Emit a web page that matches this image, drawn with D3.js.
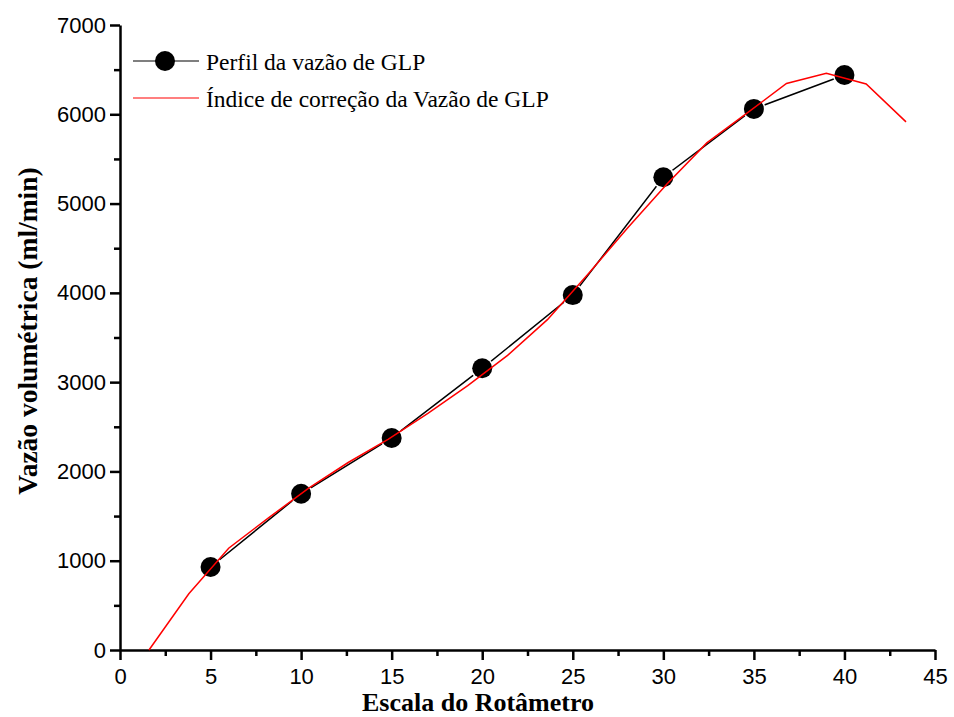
<!DOCTYPE html>
<html>
<head>
<meta charset="utf-8">
<script src="https://cdn.jsdelivr.net/npm/d3@7"></script>
<style>
  body { margin: 0; background: #fff; }
  svg { display: block; }
  .tick text { font-family: "Liberation Sans", Arial, sans-serif; font-size: 22px; fill: #000; }
  .titulo { font-family: "Liberation Serif", "Times New Roman", serif; font-weight: bold; font-size: 26px; }
  .leg { font-family: "Liberation Serif", "Times New Roman", serif; font-size: 23.5px; }
</style>
</head>
<body>
<div id="grafico"></div>
<script>
// dados
const escala = [5, 10, 15, 20, 25, 30, 35, 40];
const vazao = [930, 1750, 2375, 3155, 3975, 5295, 6060, 6440];

const escalaCorr = [1.6, 3.8, 6.0, 8.2, 10.4, 12.6, 14.8, 17.0, 19.2, 21.4, 23.6, 25.8, 28.0, 30.2, 32.4, 34.6, 36.8, 39.0, 41.2, 43.4];
const vazaoCorr = [0, 630, 1140, 1480, 1810, 2100, 2360, 2650, 2960, 3300, 3700, 4200, 4720, 5220, 5680, 6010, 6345, 6460, 6340, 5915];

const xTicks = [0, 5, 10, 15, 20, 25, 30, 35, 40, 45];
const yTicks = [0, 1000, 2000, 3000, 4000, 5000, 6000, 7000];

const W = 954, H = 717;
const margin = { left: 120, right: 19, top: 25, bottom: 67 };

const svg = d3.select("#grafico").append("svg")
    .attr("width", W)
    .attr("height", H);

const x = d3.scaleLinear().domain([0, 45]).range([margin.left, W - margin.right]);
const y = d3.scaleLinear().domain([0, 7000]).range([H - margin.bottom, margin.top]);

// eixos - ticks menores
svg.append("g")
    .attr("transform", `translate(0,${y(0)})`)
    .call(d3.axisBottom(x).tickValues(d3.range(2.5, 45, 5)).tickSize(6).tickFormat(""))
    .call(g => g.select(".domain").remove())
    .selectAll("line").attr("stroke-width", 2.5);

svg.append("g")
    .attr("transform", `translate(${x(0)},0)`)
    .call(d3.axisLeft(y).tickValues(d3.range(500, 7000, 1000)).tickSize(6).tickFormat(""))
    .call(g => g.select(".domain").remove())
    .selectAll("line").attr("stroke-width", 2.5);

const xAxis = svg.append("g")
    .attr("transform", `translate(0,${y(0)})`)
    .call(d3.axisBottom(x).tickValues(xTicks).tickSize(10).tickSizeOuter(0).tickPadding(8).tickFormat(d3.format("d")));
xAxis.select(".domain").attr("stroke-width", 2.5);
xAxis.selectAll("line").attr("stroke-width", 2.5);

const yAxis = svg.append("g")
    .attr("transform", `translate(${x(0)},0)`)
    .call(d3.axisLeft(y).tickValues(yTicks).tickSize(10).tickSizeOuter(0).tickPadding(4).tickFormat(d3.format("d")));
yAxis.select(".domain").attr("stroke-width", 2.5);
yAxis.selectAll("line").attr("stroke-width", 2.5);

// titulos
svg.append("text")
    .attr("class", "titulo")
    .attr("x", 478)
    .attr("y", 711)
    .attr("text-anchor", "middle")
    .text("Escala do Rotâmetro");

svg.append("text")
    .attr("class", "titulo")
    .attr("transform", "translate(37,331) rotate(-90)")
    .attr("text-anchor", "middle")
    .style("font-size", "27.5px")
    .text("Vazão volumétrica (ml/min)");

// serie preta
const linha = d3.line().x(d => x(d[0])).y(d => y(d[1]));

svg.append("path")
    .datum(escala.map((e, i) => [e, vazao[i]]))
    .attr("fill", "none")
    .attr("stroke", "#000")
    .attr("stroke-width", 1.5)
    .attr("d", linha);

svg.selectAll(".ponto")
    .data(escala.map((e, i) => [e, vazao[i]]))
    .enter()
    .append("circle")
    .attr("class", "ponto")
    .attr("cx", d => x(d[0]))
    .attr("cy", d => y(d[1]))
    .attr("r", 10)
    .attr("fill", "#000")
    .attr("stroke", "#fff")
    .attr("stroke-width", 3)
    .attr("paint-order", "stroke");

// serie vermelha
svg.append("path")
    .datum(escalaCorr.map((e, i) => [e, vazaoCorr[i]]))
    .attr("fill", "none")
    .attr("stroke", "#ff0000")
    .attr("stroke-width", 1.5)
    .attr("d", linha);

// legenda
const leg = svg.append("g");
leg.append("line")
    .attr("x1", 133).attr("x2", 199).attr("y1", 61).attr("y2", 61)
    .attr("stroke", "#000").attr("stroke-width", 1.2);
leg.append("circle")
    .attr("cx", 165).attr("cy", 61).attr("r", 10).attr("fill", "#000");
leg.append("text")
    .attr("class", "leg")
    .attr("x", 206).attr("y", 70)
    .text("Perfil da vazão de GLP");

leg.append("line")
    .attr("x1", 133).attr("x2", 199).attr("y1", 98).attr("y2", 98)
    .attr("stroke", "#ff0000").attr("stroke-width", 1.2);
leg.append("text")
    .attr("class", "leg")
    .attr("x", 206).attr("y", 107)
    .text("Índice de correção da Vazão de GLP");
</script>
</body>
</html>
